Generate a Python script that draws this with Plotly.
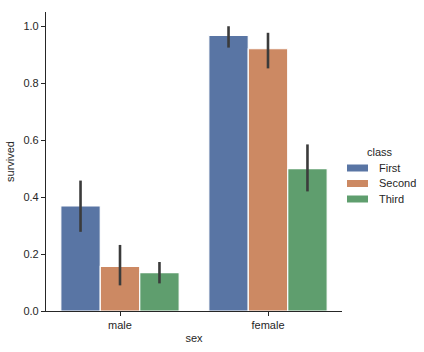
import plotly.graph_objects as go

sexes = ["male", "female"]
classes = ["First", "Second", "Third"]
survived = {
    "First": [0.369, 0.968],
    "Second": [0.157, 0.921],
    "Third": [0.135, 0.500],
}
ci_low = {
    "First": [0.278, 0.925],
    "Second": [0.090, 0.852],
    "Third": [0.097, 0.420],
}
ci_high = {
    "First": [0.458, 1.000],
    "Second": [0.232, 0.977],
    "Third": [0.172, 0.585],
}
colors = {"First": "#5975a4", "Second": "#cc8963", "Third": "#5f9e6e"}

W, H = 424, 352
L, R, T, B = 46, 82, 12, 41
PW, PH = W - L - R, H - T - B


def px(x):
    return (x - L) / PW


def py(y):
    return (H - B - y) / PH


fig = go.Figure()
for c in classes:
    v = survived[c]
    fig.add_trace(go.Bar(
        x=sexes, y=v, name=c, showlegend=False,
        marker=dict(color=colors[c], line=dict(color="white", width=1.2)),
        error_y=dict(
            type="data", symmetric=False,
            array=[h - m for h, m in zip(ci_high[c], v)],
            arrayminus=[m - l for l, m in zip(ci_low[c], v)],
            color="#3b3b3b", thickness=2.6, width=0,
        ),
    ))

font = "Liberation Sans, Arial, sans-serif"
tc = "#262626"

# manual legend (seaborn-style wide patches)
shapes = []
annotations = [dict(text="class", x=px(380), y=py(152), xref="paper", yref="paper",
                    showarrow=False, xanchor="center", yanchor="middle",
                    font=dict(size=11, color=tc, family=font))]
for i, c in enumerate(classes):
    yc = 168 + i * 15.5
    shapes.append(dict(type="rect", xref="paper", yref="paper",
                       x0=px(347), x1=px(368), y0=py(yc - 3.5), y1=py(yc + 3.5),
                       fillcolor=colors[c], line=dict(width=0)))
    annotations.append(dict(text=c, x=px(377), y=py(yc), xref="paper", yref="paper",
                            showarrow=False, xanchor="left", yanchor="middle",
                            font=dict(size=11, color=tc, family=font)))

fig.update_layout(
    width=W, height=H,
    margin=dict(l=L, r=R, t=T, b=B, autoexpand=False),
    paper_bgcolor="white", plot_bgcolor="white",
    barmode="group", bargap=0.2, bargroupgap=0,
    font=dict(family=font, size=11, color=tc),
    showlegend=False,
    shapes=shapes, annotations=annotations,
    xaxis=dict(
        title=dict(text="sex", font=dict(size=11), standoff=4),
        showline=True, linecolor=tc, linewidth=1.2,
        ticks="outside", ticklen=4, tickcolor=tc, tickwidth=1.2,
        showgrid=False, range=[-0.5, 1.5],
    ),
    yaxis=dict(
        title=dict(text="survived", font=dict(size=11), standoff=6),
        showline=True, linecolor=tc, linewidth=1.2,
        ticks="outside", ticklen=4, tickcolor=tc, tickwidth=1.2,
        showgrid=False, range=[0, 1.05], zeroline=False,
        tickvals=[0, 0.2, 0.4, 0.6, 0.8, 1.0],
        ticktext=["0.0", "0.2", "0.4", "0.6", "0.8", "1.0"],
    ),
)
fig.write_html("out.html")
